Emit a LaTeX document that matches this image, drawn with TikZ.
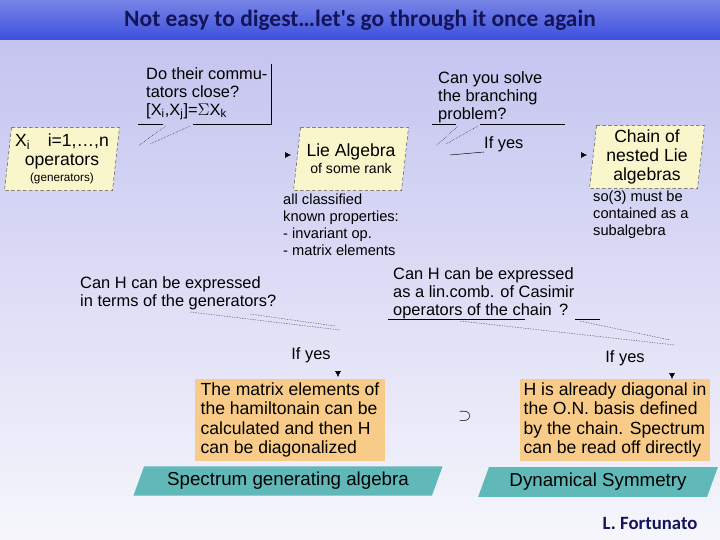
\documentclass[tikz,border=0pt]{standalone}
\usepackage{fontspec}
\setmainfont{Liberation Sans}
\newfontfamily\titlefont{Carlito}
\usetikzlibrary{arrows.meta}
\usetikzlibrary{positioning}
\usetikzlibrary{shapes.geometric}
\definecolor{bgtop}{RGB}{196,196,240}
\definecolor{bgbot}{RGB}{246,246,252}
\definecolor{barblue}{RGB}{60,80,220}
\definecolor{navy}{RGB}{20,20,90}
\definecolor{paleyel}{RGB}{250,246,204}
\definecolor{orng}{RGB}{248,204,136}
\definecolor{teal}{RGB}{96,184,184}
\begin{document}
\begin{tikzpicture}[x=0.03cm,y=-0.03cm,
                    >={Latex[length=5pt,width=5pt]},
                    txt/.style={align=left,inner sep=0pt,font=\fontsize{14}{15.5}\selectfont},
                    small/.style={align=left,inner sep=0pt,font=\fontsize{12.5}{14.5}\selectfont},
                    para/.style={minimum width=3.45cm,minimum height=1.9cm,align=center,
                                 font=\fontsize{15}{16.5}\selectfont,
                                 path picture={
                                   \path[fill=paleyel,draw=black!70,densely dashed,thin]
                                     ([xshift=6pt]path picture bounding box.north west)
                                     -- (path picture bounding box.north east)
                                     -- ([xshift=-6pt]path picture bounding box.south east)
                                     -- (path picture bounding box.south west) -- cycle;}},
                    obox/.style={fill=orng,minimum width=5.7cm,minimum height=2.3cm,
                                 align=left,font=\fontsize{15}{16.5}\selectfont},
                    sga/.style={trapezium,trapezium left angle=70,trapezium right angle=110,
                                fill=teal,minimum height=0.8cm,font=\fontsize{16}{17}\selectfont},
                    tip/.style={->}
                    ]
\useasboundingbox (0,0) rectangle (720,540);
\shade[top color=bgtop,bottom color=bgbot] (0,40) rectangle (720,540);
\shade[top color=barblue!70,bottom color=barblue] (0,0) rectangle (720,40);
\node[font=\titlefont\bfseries\fontsize{20}{22}\selectfont,text=navy] (title) at (360,20)
  {Not easy to digest\ldots let's go through it once again};

% first row
\node[para] (gen) at (62,159) {X\textsubscript{i}\quad i=1,\ldots,n\\operators\\[-3pt]{\fontsize{10}{11}\selectfont (generators)}};
\node[para] (lie) at (351,159) {Lie Algebra\\[-2pt]{\fontsize{12}{13}\selectfont of some rank}};
\node[para] (chain) at (647,157) {Chain of\\nested Lie\\algebras};

\node[txt,anchor=north west] (q1) at (146,67) {Do their commu-\\tators close?\\{}[X\textsubscript{i},X\textsubscript{j}]=$\Sigma$X\textsubscript{k}};
\draw (271,64) -- (271,124) -- (193,124) (163,124) -- (138,124);
\draw[densely dotted] (166,126) -- (138,146) (190,126) -- (150,144);

\node[txt,anchor=north west] (q2) at (438,71) {Can you solve\\the branching\\problem?};
\draw (432,124) -- (456,124) (480,124) -- (565,124);
\draw[densely dotted] (458,126) -- (436,146) (478,126) -- (446,144);
\node[txt,anchor=south west] (yes1) at (484,152) {If yes};
\draw (450,155) -- (yes1.south west);

\coordinate (a1) at (291,155);
\coordinate (a2) at (587,155);
\draw[tip] ([xshift=-4pt]a1) -- (a1);
\draw[tip] ([xshift=-4pt]a2) -- (a2);

\node[small,anchor=north west] (prop) at (283,194)
  {all classified\\known properties:\\- invariant op.\\- matrix elements};
\node[small,anchor=north west] (so3) at (593,191)
  {so(3) must be\\contained as a\\subalgebra};

% second row
\node[txt,anchor=north west] (q3) at (80,276) {Can H can be expressed\\in terms of the generators?};
\draw[densely dotted] (190,312) -- (340,330) (250,314) -- (335,326);
\node[txt,anchor=north west] (q4) at (393,267) {Can H can be expressed\\as a lin.comb. of Casimir\\operators of the chain \,?};
\draw (388,319) -- (525,319) (575,319) -- (600,319);
\draw[densely dotted] (460,321) -- (675,345) (580,321) -- (670,340);

\node[txt] (yes2) at (311,355) {If yes};
\node[txt] (yes3) at (625,358) {If yes};

\node[obox] (me) at (290,420) {The matrix elements of\\the hamiltonain can be\\calculated and then H\\can be diagonalized};
\node[obox] (diag) at (615,420) {H is already diagonal in\\the O.N. basis defined\\by the chain. Spectrum\\can be read off directly};
\coordinate (a3) at (338,377);
\coordinate (a4) at (672,379);
\draw[tip] ([yshift=5pt]a3) -- (a3);
\draw[tip] ([yshift=5pt]a4) -- (a4);
\node[font=\Large] (sup) at (465,416) {$\supset$};

\node[sga,minimum width=9.3cm] (sg) at (288,481) {Spectrum generating algebra};
\node[sga,minimum width=7.2cm] (ds) at (598,482) {Dynamical Symmetry};

\node[font=\titlefont\bfseries\fontsize{16}{17}\selectfont,text=navy] (auth) at (650,523) {L. Fortunato};
\end{tikzpicture}
\end{document}
